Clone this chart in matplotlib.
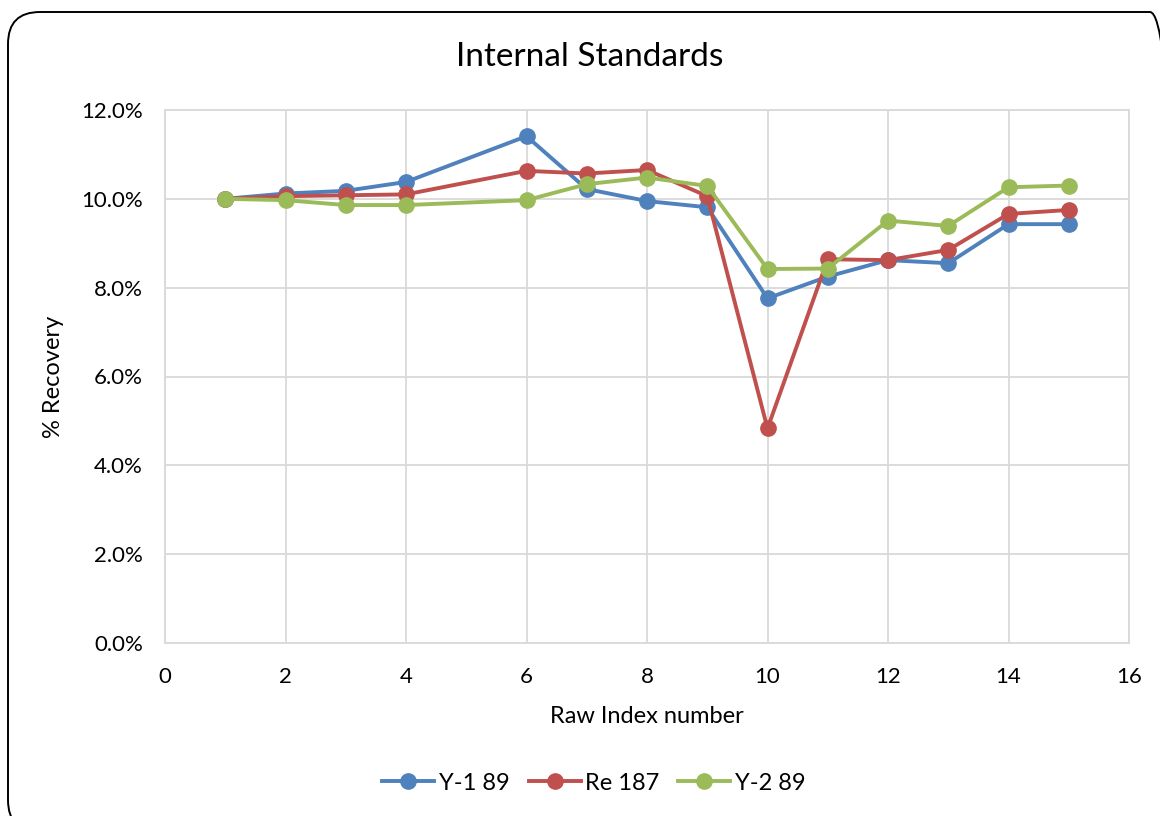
import matplotlib
matplotlib.use('Agg')
import matplotlib.pyplot as plt
from matplotlib.patches import FancyBboxPatch
from matplotlib.transforms import IdentityTransform
from matplotlib.ticker import FuncFormatter, MultipleLocator

plt.rcParams['font.family'] = ['Lato', 'DejaVu Sans']

# ─── Data ─────────────────────────────────────────────────────────────────────
raw_index = [1, 2, 3, 4, 6, 7, 8, 9, 10, 11, 12, 13, 14, 15]
y1_89 = [10.00, 10.12, 10.18, 10.38, 11.41, 10.22, 9.95, 9.81, 7.76, 8.25, 8.62, 8.55, 9.43, 9.43]
re_187 = [10.00, 10.06, 10.08, 10.10, 10.63, 10.57, 10.65, 10.06, 4.83, 8.64, 8.62, 8.85, 9.66, 9.75]
y2_89 = [10.00, 9.97, 9.86, 9.86, 9.97, 10.33, 10.48, 10.29, 8.42, 8.43, 9.51, 9.39, 10.26, 10.30]

series = [
    ('Y-1 89', y1_89, '#4F81BD'),
    ('Re 187', re_187, '#C0504D'),
    ('Y-2 89', y2_89, '#9BBB59'),
]

W, H = 1160, 816
fig = plt.figure(figsize=(W / 100, H / 100), dpi=100)

# rounded chart frame in pixel units (origin bottom-left), runs off right/bottom
left, top, right, bottom = 8, 12, 1182, 832
frame = FancyBboxPatch((left, H - bottom), right - left, bottom - top,
                       boxstyle='round,pad=0,rounding_size=32',
                       transform=IdentityTransform(), fill=False,
                       edgecolor='black', linewidth=1.4)
fig.patches.append(frame)

ax = fig.add_axes([165 / W, 1 - 643 / H, (1129 - 165) / W, (643 - 110) / H])

for name, vals, color in series:
    ax.plot(raw_index, vals, color=color, linewidth=2.8, marker='o',
            markersize=11, label=name)

ax.set_xlim(0, 16)
ax.set_ylim(0, 12)
ax.xaxis.set_major_locator(MultipleLocator(2))
ax.yaxis.set_major_locator(MultipleLocator(2))
ax.yaxis.set_major_formatter(FuncFormatter(lambda v, _: f'{v:.1f}%'))

grid_c = '#D9D9D9'
ax.grid(True, color=grid_c, linewidth=1.3)
ax.set_axisbelow(True)
for s in ax.spines.values():
    s.set_color(grid_c)
    s.set_linewidth(1.3)
ax.tick_params(length=0, labelsize=16, colors='black')
ax.tick_params(axis='x', pad=17)
ax.tick_params(axis='y', pad=16)

ax.set_xlabel('Raw Index number', fontsize=17, labelpad=14)
ax.set_ylabel('% Recovery', fontsize=17, labelpad=12)

# title sits centred on the whole chart, not on the plot area
fig.text(590 / W, 1 - 57 / H, 'Internal Standards', fontsize=24,
         ha='center', va='center')

fig.legend(loc='center', bbox_to_anchor=(594 / W, 1 - 783 / H), ncol=3,
           frameon=False, fontsize=17, handlelength=2.2, columnspacing=0.8,
           handletextpad=0.2)

fig.savefig('out.png', dpi=100)
